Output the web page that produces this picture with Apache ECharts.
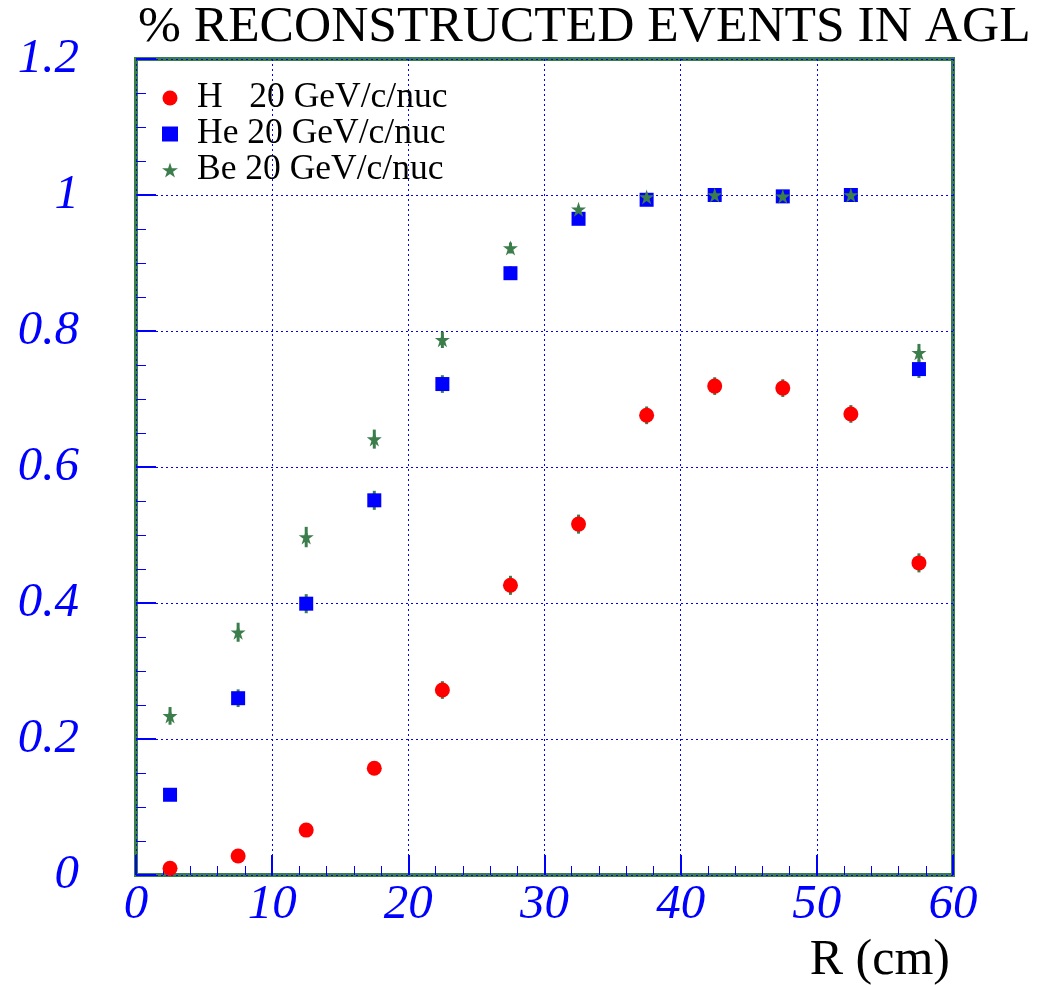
<!DOCTYPE html>
<html>
<head>
<meta charset="utf-8">
<script src="https://cdn.jsdelivr.net/npm/echarts@6/dist/echarts.min.js"></script>
<style>
  html, body { margin: 0; padding: 0; background: #ffffff; }
  #chart { width: 1053px; height: 985px; }
</style>
</head>
<body>
<div id="chart"></div>
<script>
// Radial bin centres (cm)
const radius = [2.5, 7.5, 12.5, 17.5, 22.5, 27.5, 32.5, 37.5, 42.5, 47.5, 52.5, 57.5];

// Fraction of reconstructed events per species
const effH  = [0.010, 0.028, 0.066, 0.157, 0.272, 0.426, 0.516, 0.676, 0.719, 0.716, 0.678, 0.459];
const effHe = [0.118, 0.260, 0.399, 0.551, 0.722, 0.885, 0.965, 0.993, 1.000, 0.998, 1.000, 0.744];
const effBe = [0.234, 0.357, 0.497, 0.641, 0.787, 0.922, 0.979, 0.997, 1.000, 0.998, 1.000, 0.768];

// Statistical uncertainties
const errH  = [0.003, 0.005, 0.007, 0.010, 0.013, 0.014, 0.014, 0.013, 0.013, 0.013, 0.013, 0.014];
const errHe = [0.009, 0.013, 0.014, 0.014, 0.013, 0.010, 0.006, 0.003, 0.001, 0.002, 0.001, 0.013];
const errBe = [0.013, 0.014, 0.015, 0.014, 0.012, 0.008, 0.004, 0.002, 0.001, 0.002, 0.001, 0.013];

const seriesNames = ['H   20 GeV/c/nuc', 'He 20 GeV/c/nuc', 'Be 20 GeV/c/nuc'];

const BLUE = '#0000ff';
const RED = '#ff0000';
const GREEN = '#3b7d4b';
const SERIF = '"Liberation Serif", "Times New Roman", serif';

const STAR = 'path://M50,0 L61.8,35.4 L100,35.4 L69.1,57.3 L80.9,92.7 L50,70.8 L19.1,92.7 L30.9,57.3 L0,35.4 L38.2,35.4 Z';

function points(ys) { return radius.map((r, i) => [r, ys[i]]); }
function bars(ys, es) { return radius.map((r, i) => [r, ys[i], es[i]]); }

function errorBarSeries(ys, es) {
  return {
    type: 'custom',
    z: 1,
    silent: true,
    data: bars(ys, es),
    renderItem: function (params, api) {
      const x = api.value(0), y = api.value(1), e = api.value(2);
      const lo = api.coord([x, y - e]);
      const hi = api.coord([x, y + e]);
      return {
        type: 'line',
        shape: { x1: lo[0], y1: lo[1], x2: hi[0], y2: hi[1] },
        style: { stroke: GREEN, lineWidth: 3 }
      };
    }
  };
}

const chart = echarts.init(document.getElementById('chart'), null, { renderer: 'canvas' });

const dotted = { color: BLUE, width: 1, type: [2, 3] };
const labelFont = { fontFamily: SERIF, fontStyle: 'italic', fontSize: 49, color: BLUE };

chart.setOption({
  animation: false,
  backgroundColor: '#ffffff',
  title: {
    text: '% RECONSTRUCTED EVENTS IN AGL',
    left: 136,
    top: 1,
    padding: [0, 0, 0, 2],
    textStyle: { fontFamily: SERIF, fontWeight: 'normal', fontSize: 51.5, color: '#000000' }
  },
  grid: {
    left: 136, right: 100, top: 59, bottom: 110,
    show: true,
    borderColor: GREEN,
    borderWidth: 4,
    backgroundColor: '#ffffff'
  },
  legend: {
    orient: 'vertical',
    left: 162,
    top: 80,
    padding: 0,
    itemWidth: 16,
    itemHeight: 15,
    itemGap: 0,
    data: [
      { name: seriesNames[0], icon: 'circle' },
      { name: seriesNames[1], icon: 'rect' },
      { name: seriesNames[2], icon: STAR }
    ],
    textStyle: { fontFamily: SERIF, fontSize: 35.5, color: '#000000', lineHeight: 33, padding: [0, 0, 0, 14] }
  },
  xAxis: {
    type: 'value',
    min: 0, max: 60, interval: 10,
    axisLine: { show: false },
    axisTick: { show: true, inside: true, length: 20, lineStyle: { color: BLUE, width: 2 } },
    minorTick: { show: true, splitNumber: 5, length: 9, lineStyle: { color: BLUE, width: 1 } },
    splitLine: { show: true, lineStyle: dotted },
    axisLabel: Object.assign({ margin: 6 }, labelFont)
  },
  yAxis: {
    type: 'value',
    min: 0, max: 1.2, interval: 0.2,
    axisLine: { show: false },
    axisTick: { show: true, inside: true, length: 20, lineStyle: { color: BLUE, width: 2 } },
    minorTick: { show: true, splitNumber: 4, length: 10, lineStyle: { color: BLUE, width: 1 } },
    splitLine: { show: true, lineStyle: dotted },
    axisLabel: Object.assign({ margin: 57, align: 'right' }, labelFont)
  },
  graphic: [{
    type: 'text',
    right: 103,
    top: 936,
    style: { text: 'R (cm)', font: '50px ' + SERIF, fill: '#000000' }
  }],
  series: [
    errorBarSeries(effH, errH),
    errorBarSeries(effHe, errHe),
    errorBarSeries(effBe, errBe),
    {
      name: seriesNames[0], type: 'scatter', z: 3,
      symbol: 'circle', symbolSize: 15,
      itemStyle: { color: RED, opacity: 1 },
      data: points(effH)
    },
    {
      name: seriesNames[1], type: 'scatter', z: 3,
      symbol: 'rect', symbolSize: 14,
      itemStyle: { color: BLUE, opacity: 1 },
      data: points(effHe)
    },
    {
      name: seriesNames[2], type: 'scatter', z: 4,
      symbol: STAR, symbolSize: 15,
      itemStyle: { color: GREEN, opacity: 1 },
      data: points(effBe)
    }
  ]
});
</script>
</body>
</html>
